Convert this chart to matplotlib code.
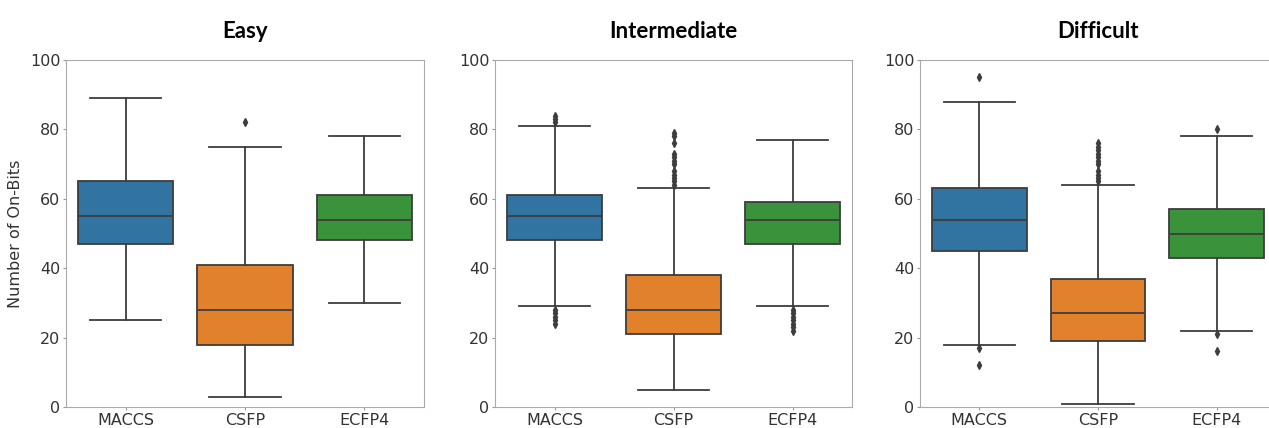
import numpy as np
import matplotlib.pyplot as plt

methods = ['MACCS', 'CSFP', 'ECFP4']
levels = ['Easy', 'Intermediate', 'Difficult']
colors = ['#3274a1', '#e1812c', '#3a923a']

# per level: [whislo, q1, median, q3, whishi] for each method
easy_stats = [[25, 47, 55, 65, 89], [3, 18, 28, 41, 75], [30, 48, 54, 61, 78]]
easy_fliers = [[], [82], []]

inter_stats = [[29, 48, 55, 61, 81], [5, 21, 28, 38, 63], [29, 47, 54, 59, 77]]
inter_fliers = [[82, 83, 84, 24, 25, 26, 27, 28],
                [64, 65, 66, 67, 68, 70, 71, 72, 73, 76, 78, 79],
                [22, 23, 24, 25, 26, 27, 28]]

diff_stats = [[18, 45, 54, 63, 88], [1, 19, 27, 37, 64], [22, 43, 50, 57, 78]]
diff_fliers = [[95, 17, 12],
               [65, 66, 67, 68, 70, 71, 72, 73, 74, 75, 76],
               [80, 21, 16]]

all_stats = [easy_stats, inter_stats, diff_stats]
all_fliers = [easy_fliers, inter_fliers, diff_fliers]

fig = plt.figure(figsize=(12.69, 4.28), dpi=100)
W, H = 1269, 428
ax_px = [(66, 424), (495, 852), (920, 1276)]
top, bottom = 60, 407

line_col = '#3d3d3d'
for k, (x0, x1) in enumerate(ax_px):
    ax = fig.add_axes([x0 / W, 1 - bottom / H, (x1 - x0) / W, (bottom - top) / H])
    stats = []
    for m, s, f in zip(methods, all_stats[k], all_fliers[k]):
        stats.append(dict(label=m, whislo=s[0], q1=s[1], med=s[2], q3=s[3],
                          whishi=s[4], fliers=f))
    bp = ax.bxp(stats, positions=range(3), widths=0.8, patch_artist=True,
                boxprops=dict(edgecolor=line_col, linewidth=1.3),
                medianprops=dict(color=line_col, linewidth=1.3),
                whiskerprops=dict(color=line_col, linewidth=1.3),
                capprops=dict(color=line_col, linewidth=1.3),
                flierprops=dict(marker='d', markersize=4, markerfacecolor=line_col,
                                markeredgecolor=line_col))
    for patch, c in zip(bp['boxes'], colors):
        patch.set_facecolor(c)
    for cap in bp['caps']:
        xd = cap.get_xdata()
        mid = (xd[0] + xd[1]) / 2
        cap.set_xdata([mid - 0.3, mid + 0.3])
    ax.set_xlim(-0.5, 2.5)
    ax.set_ylim(0, 100)
    ax.set_yticks([0, 20, 40, 60, 80, 100])
    ax.set_xticks(range(3))
    ax.set_xticklabels(methods)
    ax.tick_params(labelsize=11.5, colors='#333333', length=2, pad=2,
                   color='#999999')
    for sp in ax.spines.values():
        sp.set_color('#aaaaaa')
    ax.set_title(levels[k], fontsize=16, fontweight='bold', pad=16,
                 family=['Lato', 'DejaVu Sans'])
    if k == 0:
        ax.set_ylabel('Number of On-Bits', fontsize=11.5, color='#333333',
                      labelpad=5)

fig.savefig('out.png', dpi=100)
